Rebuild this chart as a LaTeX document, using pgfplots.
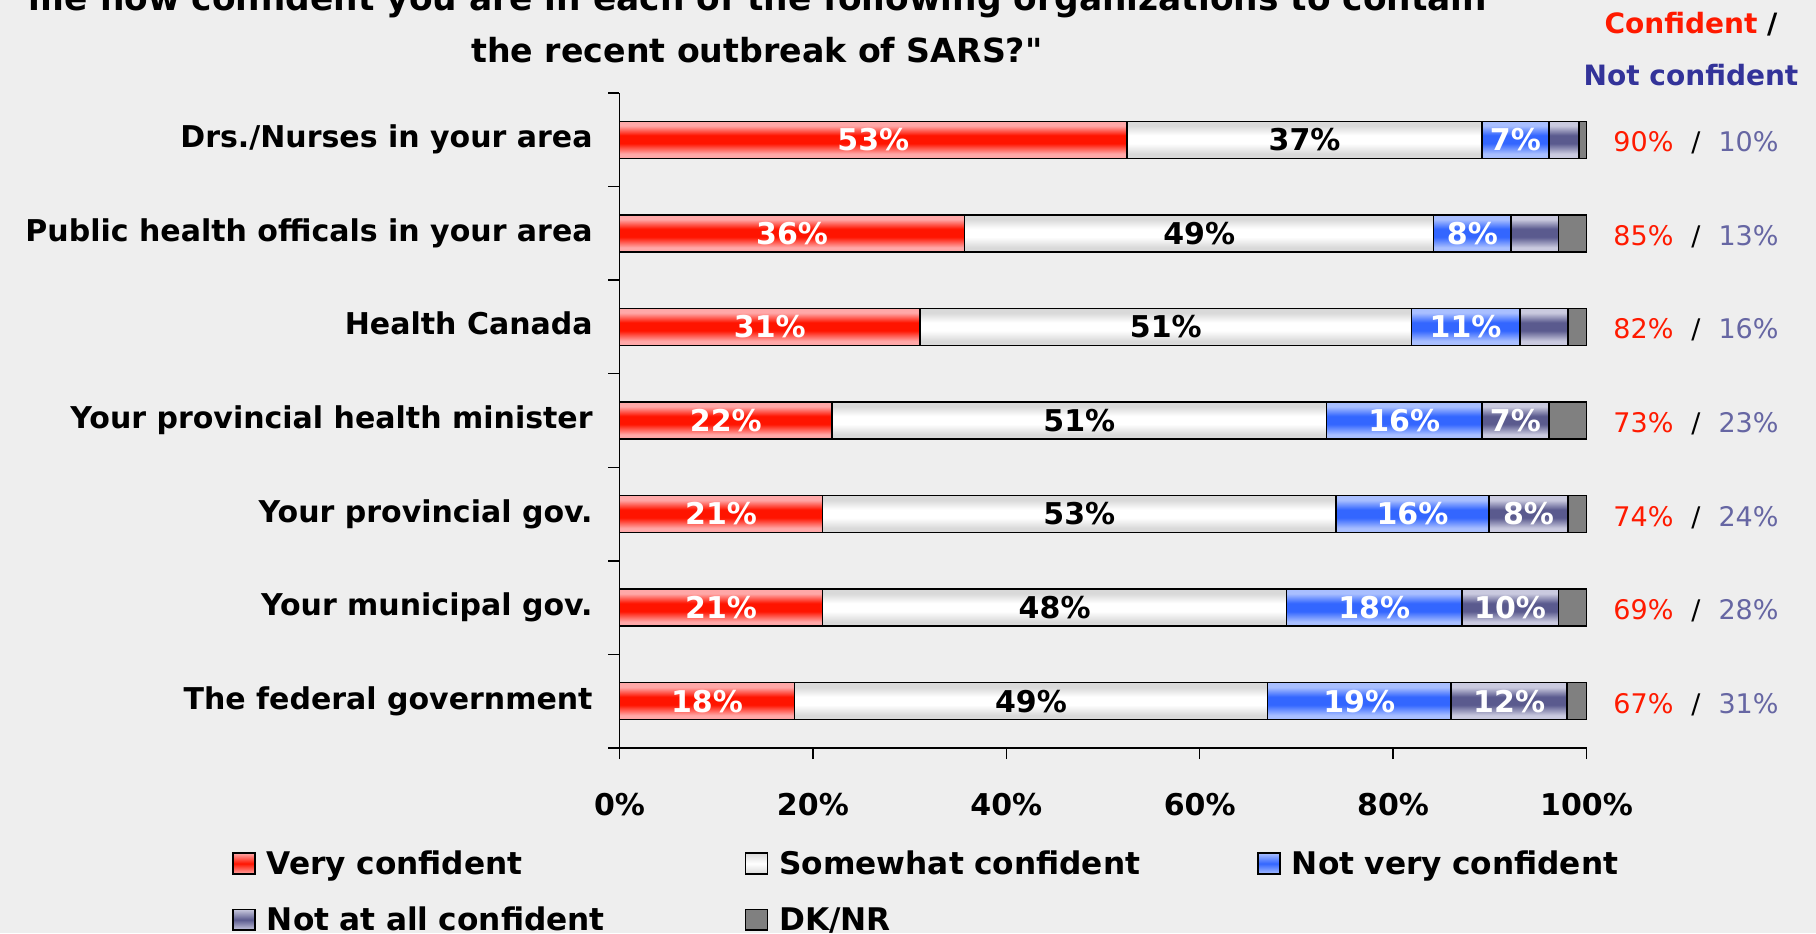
\documentclass[border=0pt]{standalone}
\usepackage{fontspec}
\setmainfont{DejaVu Sans}
\newfontfamily\qfont{DejaVu Sans}
\usepackage{pgfplots}
\pgfplotsset{compat=1.18}
\definecolor{bg}{HTML}{EEEEEE}
\definecolor{redC}{HTML}{FF1400}
\definecolor{redL}{HTML}{FFA8A8}
\definecolor{whC}{HTML}{FFFFFF}
\definecolor{whL}{HTML}{D9D9D9}
\definecolor{blC}{HTML}{3366FF}
\definecolor{blL}{HTML}{A9BFFF}
\definecolor{slC}{HTML}{5A5A8E}
\definecolor{slL}{HTML}{CACADF}
\definecolor{grC}{HTML}{808080}
\definecolor{numR}{HTML}{FF1A00}
\definecolor{numS}{HTML}{6666A3}
\definecolor{navy}{HTML}{333399}
\newcommand\barspec[2]{color(0bp)=(#1); color(25bp)=(#1); color(25.371bp)=(#1); color(26.237bp)=(#2); color(26.917bp)=(#2); color(27.72bp)=(#1); color(28.091bp)=(#1);
 color(32.818bp)=(#1); color(33.189bp)=(#1); color(34.055bp)=(#2); color(34.735bp)=(#2); color(35.538bp)=(#1); color(35.909bp)=(#1);
 color(40.636bp)=(#1); color(41.007bp)=(#1); color(41.873bp)=(#2); color(42.553bp)=(#2); color(43.356bp)=(#1); color(43.727bp)=(#1);
 color(48.454bp)=(#1); color(48.825bp)=(#1); color(49.691bp)=(#2); color(50.371bp)=(#2); color(51.174bp)=(#1); color(51.545bp)=(#1);
 color(56.272bp)=(#1); color(56.643bp)=(#1); color(57.509bp)=(#2); color(58.189bp)=(#2); color(58.992bp)=(#1); color(59.363bp)=(#1);
 color(64.09bp)=(#1); color(64.461bp)=(#1); color(65.327bp)=(#2); color(66.007bp)=(#2); color(66.81bp)=(#1); color(67.181bp)=(#1);
 color(71.908bp)=(#1); color(72.279bp)=(#1); color(73.145bp)=(#2); color(73.825bp)=(#2); color(74.628bp)=(#1); color(75bp)=(#1); color(100bp)=(#1)}
\edef\tmp{\noexpand\pgfdeclareverticalshading{redbars}{100bp}{\barspec{redL}{redC}}}\tmp
\edef\tmp{\noexpand\pgfdeclareverticalshading{whbars}{100bp}{\barspec{whL}{whC}}}\tmp
\edef\tmp{\noexpand\pgfdeclareverticalshading{blbars}{100bp}{\barspec{blL}{blC}}}\tmp
\edef\tmp{\noexpand\pgfdeclareverticalshading{slbars}{100bp}{\barspec{slL}{slC}}}\tmp
\newcommand\fcat{\bfseries\fontsize{15}{18}\selectfont}
\newcommand\fleg{\bfseries\fontsize{15.6}{18}\selectfont}
\newcommand\ftick{\bfseries\fontsize{15}{18}\selectfont}
\newcommand\fbar{\bfseries\fontsize{15}{18}\selectfont}
\newcommand\fnum{\fontsize{13.5}{16}\selectfont}
\newcommand\ftitle{\bfseries\fontsize{17.2}{20}\selectfont}
\newcommand\ftitleb{\bfseries\fontsize{16.6}{20}\selectfont}
\newcommand\fhead{\bfseries\fontsize{14}{17}\selectfont}
\newcommand\rlab[3]{\node[rl] at (axis cs:100,#1) {\textcolor{numR}{#2\%}\hspace{9pt}/\hspace{9pt}\textcolor{numS}{#3\%}};}
\newcommand\legbox[3]{\draw[draw=black, line width=0.75pt, top color=#1, bottom color=#1, middle color=#2] (0pt,-3.2pt) rectangle (11pt,7.2pt);}
\begin{document}
\begin{tikzpicture}[
  lab/.style={font=\fbar, text=white, anchor=base, inner sep=0pt, yshift=-5.4pt},
  rl/.style={font=\fnum, anchor=base west, inner sep=0pt, xshift=13.25pt, yshift=-6pt}]
\fill[bg] (0,0) rectangle (908pt,466.5pt);
\path[use as bounding box] (0,0) rectangle (908pt,466.5pt);
\node[font=\ftitle, anchor=base] at (379pt,461pt) {me how confident you are in each of the following organizations to contain};
\node[font=\ftitleb, anchor=base] at (378.5pt,435.3pt) {the recent outbreak of SARS?{\qfont"}};
\node[font=\fhead, anchor=base] at (845.5pt,449.5pt) {\textcolor{numR}{Confident} /};
\node[font=\fhead, anchor=base, text=navy] at (845.5pt,423.5pt) {Not confident};
\begin{axis}[
  at={(309.75pt,92.5pt)}, anchor=south west,
  scale only axis, width=483.5pt, height=327.5pt,
  xbar stacked, bar width=18.5pt,
  xmin=0, xmax=100, ymin=0.5, ymax=7.5,
  axis lines=left,
  axis line style={-, line width=0.75pt, black},
  tick align=outside,
  major tick length=5.5pt, minor tick length=5.5pt,
  xtick={0,20,40,60,80,100},
  xticklabels={0\%,20\%,40\%,60\%,80\%,100\%},
  ytick={1,...,7},
  yticklabels={The federal government, Your municipal gov., Your provincial gov., Your provincial health minister, Health Canada, Public health officals in your area, Drs./Nurses in your area},
  minor ytick={0.5,1.5,...,7.5},
  tick style={line width=0.75pt, black},
  major y tick style={draw=none},
  minor y tick style={draw=black, line width=0.75pt},
  yticklabel style={font=\fcat, anchor=base east, inner sep=0pt, xshift=-7.75pt, yshift=-4pt},
  xticklabel style={font=\ftick, anchor=base, inner sep=0pt, yshift=-28.2pt},
  clip=false,
  legend columns=3, legend cell align=left,
  legend style={at={(axis description cs:0,0)}, anchor=north west, xshift=-193.75pt, yshift=-52pt,
    draw=none, fill=none, inner sep=0pt, row sep=13pt, font=\fleg,
    nodes={inner sep=0pt, text height=11pt, text depth=4pt, text width=239pt},
    /tikz/every odd column/.append style={column sep=5.5pt},
    /tikz/every even column/.append style={column sep=0pt}},
  after end axis/.code={
    \node[lab] at (axis cs:26.25,7) {53\%};
    \node[lab,text=black] at (axis cs:70.85,7) {37\%};
    \node[lab] at (axis cs:92.65,7) {7\%};
    \node[lab] at (axis cs:17.85,6) {36\%};
    \node[lab,text=black] at (axis cs:59.95,6) {49\%};
    \node[lab] at (axis cs:88.2,6) {8\%};
    \node[lab] at (axis cs:15.55,5) {31\%};
    \node[lab,text=black] at (axis cs:56.5,5) {51\%};
    \node[lab] at (axis cs:87.5,5) {11\%};
    \node[lab] at (axis cs:11,4) {22\%};
    \node[lab,text=black] at (axis cs:47.55,4) {51\%};
    \node[lab] at (axis cs:81.15,4) {16\%};
    \node[lab] at (axis cs:92.65,4) {7\%};
    \node[lab] at (axis cs:10.5,3) {21\%};
    \node[lab,text=black] at (axis cs:47.55,3) {53\%};
    \node[lab] at (axis cs:82.0,3) {16\%};
    \node[lab] at (axis cs:94.0,3) {8\%};
    \node[lab] at (axis cs:10.5,2) {21\%};
    \node[lab,text=black] at (axis cs:45,2) {48\%};
    \node[lab] at (axis cs:78.05,2) {18\%};
    \node[lab] at (axis cs:92.1,2) {10\%};
    \node[lab] at (axis cs:9.05,1) {18\%};
    \node[lab,text=black] at (axis cs:42.55,1) {49\%};
    \node[lab] at (axis cs:76.5,1) {19\%};
    \node[lab] at (axis cs:92,1) {12\%};
    \rlab{7}{90}{10}\rlab{6}{85}{13}\rlab{5}{82}{16}\rlab{4}{73}{23}
    \rlab{3}{74}{24}\rlab{2}{69}{28}\rlab{1}{67}{31}
  },
]
\addplot[draw=black, line width=0.75pt, shade, shading=redbars,
  legend image code/.code={\legbox{redL}{redC}{}}]
  coordinates {(52.5,7) (35.7,6) (31.1,5) (22.0,4) (21.0,3) (21.0,2) (18.1,1)};
\addplot[draw=black, line width=0.75pt, shade, shading=whbars,
  legend image code/.code={\legbox{whL}{whC}{}}]
  coordinates {(36.7,7) (48.5,6) (50.8,5) (51.1,4) (53.1,3) (48.0,2) (48.9,1)};
\addplot[draw=black, line width=0.75pt, shade, shading=blbars,
  legend image code/.code={\legbox{blL}{blC}{}}]
  coordinates {(6.9,7) (8.0,6) (11.2,5) (16.1,4) (15.8,3) (18.1,2) (19.0,1)};
\addplot[draw=black, line width=0.75pt, shade, shading=slbars,
  legend image code/.code={\legbox{slL}{slC}{}}]
  coordinates {(3.1,7) (4.9,6) (5.0,5) (6.9,4) (8.2,3) (10.0,2) (12.0,1)};
\addplot[draw=black, line width=0.75pt, fill=grC,
  legend image code/.code={\draw[draw=black, line width=0.75pt, fill=grC] (0pt,-3.2pt) rectangle (11pt,7.2pt);}]
  coordinates {(0.8,7) (2.9,6) (1.9,5) (3.9,4) (1.9,3) (2.9,2) (2.0,1)};
\legend{Very confident, Somewhat confident, Not very confident, Not at all confident, DK/NR}
\end{axis}
\end{tikzpicture}
\end{document}
